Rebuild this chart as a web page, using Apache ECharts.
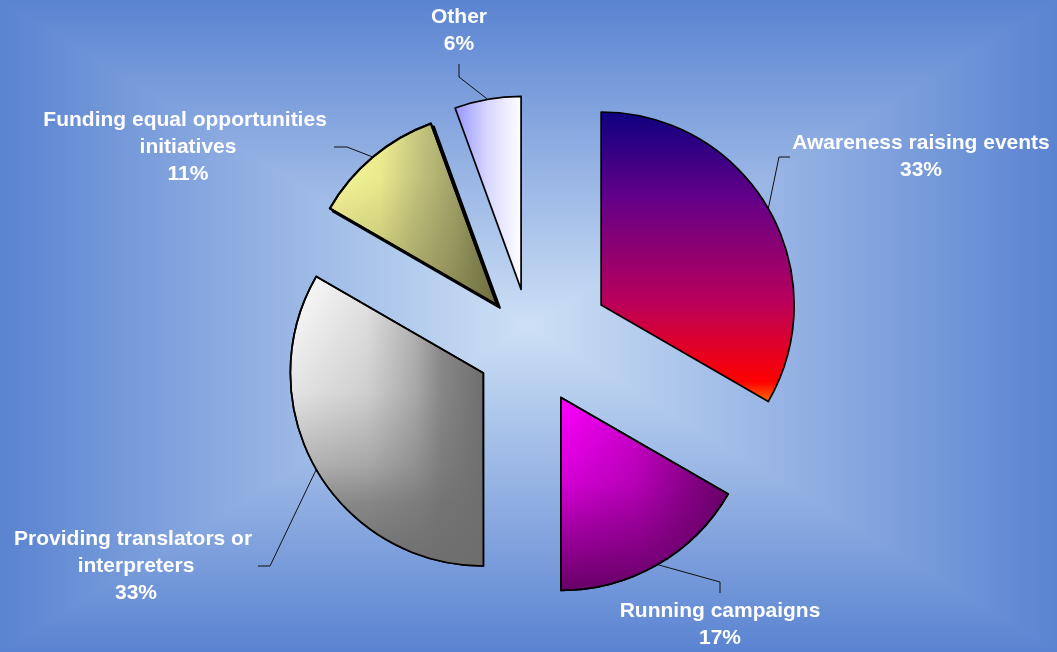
<!DOCTYPE html>
<html>
<head>
<meta charset="utf-8">
<script src="https://cdn.jsdelivr.net/npm/echarts@6/dist/echarts.min.js"></script>
<style>
  html, body { margin: 0; padding: 0; }
  #main { width: 1057px; height: 652px; }
</style>
</head>
<body>
<div id="main"></div>
<script>
// answers, 18 in all
var categories = ['Awareness raising events', 'Running campaigns', 'Providing translators or interpreters',
                  'Funding equal opportunities initiatives', 'Other'];
var counts = [6, 3, 6, 2, 1];

// how far each slice is pulled out of the pie (px)
var explode = [81, 60, 55, 53, 57];
var pieCenter = [531, 345.5];
var pieRadius = 193;

// fill ramps for the slices, "dir" = which way the ramp runs,
// "shade" = how strong the darkening towards the bottom is for corner ramps
var ramps = [
  { dir: 'v', stops: [[0, '#0c0080'], [0.3, '#640088'], [0.65, '#b8005c'], [0.93, '#ff0000'], [1, '#ff7000']] },
  { dir: 'corner', shade: 1, stops: [[0, '#ff00ff'], [0.45, '#d400d4'], [0.7, '#a000a0'], [1, '#660066']] },
  { dir: 'corner', shade: 1, stops: [[0, '#ffffff'], [0.4, '#e4e4e4'], [0.55, '#c8c8c8'], [0.65, '#b4b4b4'], [0.78, '#8c8c8c'], [1, '#6e6e6e']] },
  { dir: 'corner', shade: 0.55, stops: [[0, '#ffffa0'], [0.3, '#f2f292'], [0.5, '#cccc84'], [0.75, '#a4a46a'], [1, '#6e6e40']] },
  { dir: 'h', stops: [[0, '#9494ff'], [0.5, '#d8d8ff'], [1, '#ffffff']] }
];
// drop shadow (dx, dy) behind a slice, only the funding slice has one
var shadows = [null, null, null, [3, 3], null];

// where each label sits and the elbow/end of its leader line
var labelSpots = [
  { x: 921, y: 156.5, line: [[779, 157], [790, 157]] },
  { x: 720, y: 624.5, line: [[720, 582], [720, 593]] },
  { x: 136, y: 566, line: [[270, 566], [258, 566]] },
  { x: 188, y: 147, line: [[347, 147], [334, 147]] },
  { x: 459, y: 30.5, line: [[459, 77], [459, 64]] }
];

var bgOuter = '#5a83d1';
var bgInner = '#cde0f5';

function hexRgb(h) {
  return [parseInt(h.slice(1, 3), 16), parseInt(h.slice(3, 5), 16), parseInt(h.slice(5, 7), 16)];
}
function grad(x2, y2, stops) {
  return {
    type: 'linear', x: 0, y: 0, x2: x2, y2: y2,
    colorStops: stops.map(function (s) { return { offset: s[0], color: s[1] }; })
  };
}
// vertical layer of the dark end colour, fading in the same way as the ramp
function overlayFrom(stops, k) {
  var c0 = hexRgb(stops[0][1]), c1 = hexRgb(stops[stops.length - 1][1]);
  var s0 = c0[0] + c0[1] + c0[2], s1 = c1[0] + c1[1] + c1[2];
  return grad(0, 1, stops.map(function (st) {
    var c = hexRgb(st[1]);
    var a = k * (s0 - (c[0] + c[1] + c[2])) / (s0 - s1);
    return [st[0], 'rgba(' + c1.join(',') + ',' + a.toFixed(3) + ')'];
  }));
}

var total = counts.reduce(function (a, b) { return a + b; }, 0);
var acc = 0;
var mids = counts.map(function (v) {
  var m = (acc + v / 2) / total * 2 * Math.PI;
  acc += v;
  return m;
});

var hidden = {
  itemStyle: { color: 'rgba(0,0,0,0)', borderWidth: 0 },
  label: { show: false },
  labelLine: { show: false }
};

function sliceSeries(i, fill, withLabel, shift) {
  var cx = pieCenter[0] + explode[i] * Math.sin(mids[i]);
  var cy = pieCenter[1] - explode[i] * Math.cos(mids[i]);
  var style = { color: fill, borderColor: '#000', borderWidth: i === 3 ? 2 : 1.7 };
  if (shift) {
    cx += shift[0];
    cy += shift[1];
    style.borderColor = fill;
  }
  return {
    type: 'pie',
    center: [cx, cy],
    radius: [0, pieRadius],
    startAngle: 90,
    clockwise: true,
    percentPrecision: 0,
    avoidLabelOverlap: false,
    silent: true,
    animation: false,
    label: {
      show: withLabel,
      position: 'outside',
      formatter: '{b}\n{d}%',
      color: '#fff',
      fontFamily: 'Liberation Sans, Arial, sans-serif',
      fontWeight: 'bold',
      fontSize: 21,
      lineHeight: 27,
      width: 300,
      overflow: 'break',
      align: 'center'
    },
    labelLine: { show: withLabel, smooth: false, lineStyle: { color: '#111', width: 1 } },
    labelLayout: function (p) {
      if (!withLabel || p.dataIndex !== i) return {};
      var s = labelSpots[i];
      var start = [cx + pieRadius * Math.sin(mids[i]), cy - pieRadius * Math.cos(mids[i])];
      return {
        x: s.x, y: s.y, align: 'center', verticalAlign: 'middle',
        labelLinePoints: [start].concat(s.line)
      };
    },
    data: counts.map(function (v, j) {
      if (j !== i) return Object.assign({ name: categories[j], value: v }, hidden);
      return { name: categories[j], value: v, itemStyle: style };
    })
  };
}

var series = [];
categories.forEach(function (name, i) {
  var r = ramps[i];
  if (shadows[i]) series.push(sliceSeries(i, '#000', false, shadows[i]));
  var base = r.dir === 'v' ? grad(0, 1, r.stops) : grad(1, 0, r.stops);
  series.push(sliceSeries(i, base, true));
  if (r.dir === 'corner') series.push(sliceSeries(i, overlayFrom(r.stops, r.shade), false));
});

// background: light in the middle, darker towards every edge
var W = 1057, H = 652, mx = 528, my = 326;
var inOut = [[0, bgInner], [1, bgOuter]], outIn = [[0, bgOuter], [1, bgInner]];
var myChart = echarts.init(document.getElementById('main'));
myChart.setOption({
  animation: false,
  graphic: {
    elements: [
      { type: 'rect', silent: true, z: -6, shape: { x: 0, y: 0, width: mx, height: H }, style: { fill: grad(1, 0, outIn) } },
      { type: 'rect', silent: true, z: -6, shape: { x: mx, y: 0, width: W - mx, height: H }, style: { fill: grad(1, 0, inOut) } },
      { type: 'polygon', silent: true, z: -5, shape: { points: [[0, 0], [W, 0], [mx, my]] }, style: { fill: grad(0, 1, outIn) } },
      { type: 'polygon', silent: true, z: -5, shape: { points: [[0, H], [W, H], [mx, my]] }, style: { fill: grad(0, 1, inOut) } }
    ]
  },
  series: series
});
</script>
</body>
</html>
